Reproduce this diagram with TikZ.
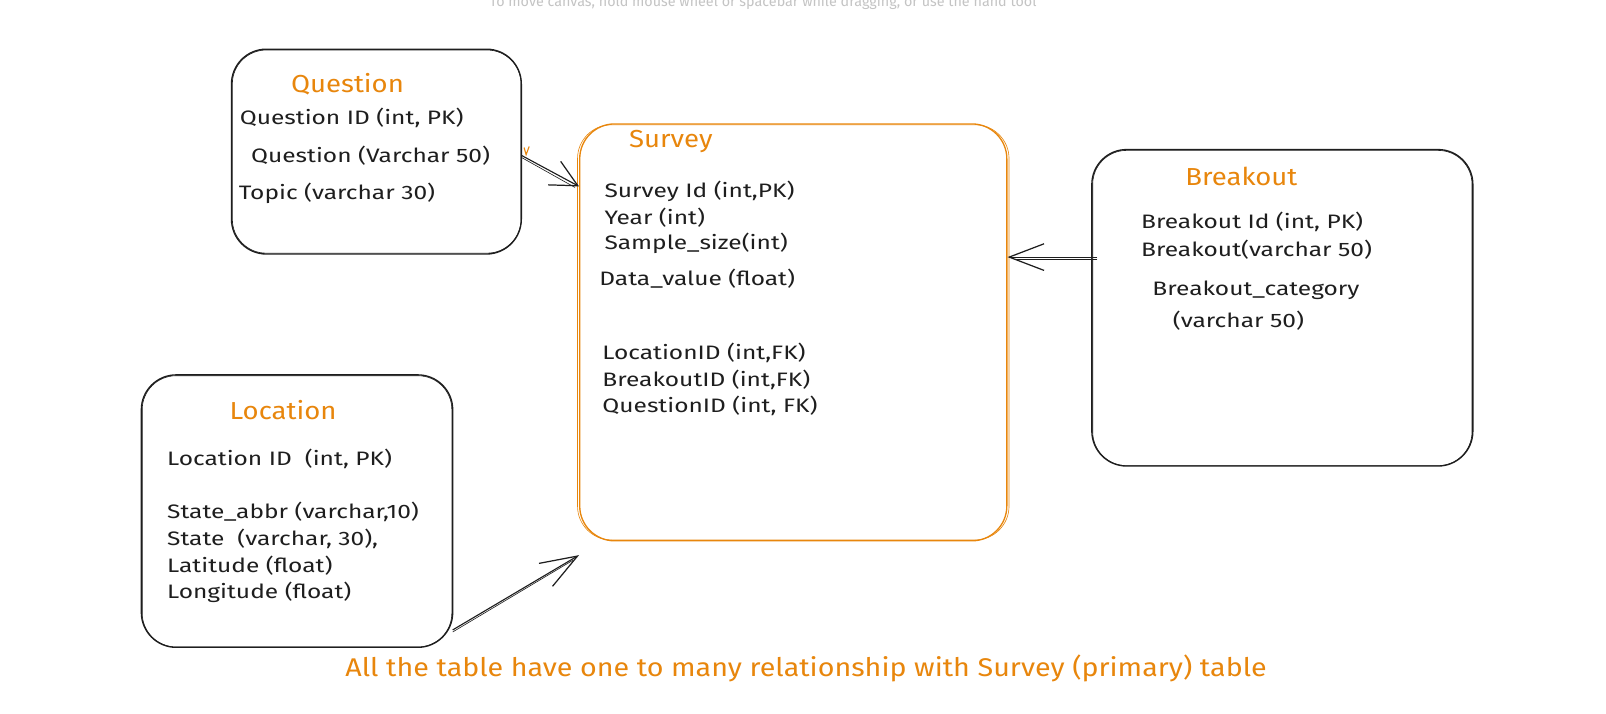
\documentclass[tikz,border=0pt]{standalone}
\usepackage{fontspec}
\setmainfont{Fira Sans}
\newfontfamily\rowfont{Fira Sans}[FakeStretch=1.26]
\newfontfamily\ttlfont{Fira Sans}[FakeStretch=1.12]
\usetikzlibrary{arrows.meta,calc}
\definecolor{orng}{HTML}{E8860C}
\definecolor{ink}{HTML}{1E1E1E}
\definecolor{hint}{HTML}{C4C4C4}
\begin{document}
\begin{tikzpicture}[x=1pt,y=-1pt,
  tbl/.style={draw=#1, line width=1.3pt, rounded corners=34pt, inner sep=0pt},
  tbl/.default=ink,
  row/.style={anchor=west, inner sep=0pt, text=ink, font=\rowfont\fontsize{19}{22}\selectfont},
  ttl/.style={anchor=west, inner sep=0pt, text=orng, font=\ttlfont\fontsize{24}{28}\selectfont},
  barb/.style={-{Straight Barb[length=#1, width=26pt, line width=1.2pt]}, draw=ink, line width=1.1pt},
  barb/.default=34pt,
  shadow/.style={draw=ink, line width=0.6pt}
]
\useasboundingbox (0,0) rectangle (1568,697);
\fill[white] (0,0) rectangle (1568,697);

% hint text at the top (clipped)
\node[anchor=base, inner sep=0pt, text=hint, font=\fontsize{14}{16}\selectfont] (hint) at (745,6)
  {To move canvas, hold mouse wheel or spacebar while dragging, or use the hand tool};

% tables
\node[tbl, minimum width=283pt, minimum height=200pt] (q) at (367.5,148) {};
\node[tbl=orng, minimum width=417pt, minimum height=407pt] (s) at (774.5,324.5) {};
\node[tbl, minimum width=372pt, minimum height=309pt] (b) at (1252,300.5) {};
\node[tbl, minimum width=304pt, minimum height=266pt] (l) at (290,499) {};

% sketchy second strokes
\draw[shadow, rounded corners=33pt] ($(q.south west)+(1.5,-1.5)$) rectangle ($(q.north east)+(-1,1.5)$);
\draw[draw=orng, line width=0.6pt, rounded corners=33pt] ($(s.south west)+(-1.5,-1.5)$) rectangle ($(s.north east)+(1.5,1.5)$);
\draw[shadow, rounded corners=33pt] ($(b.south west)+(1.5,-1)$) rectangle ($(b.north east)+(-1.5,1.5)$);
\draw[shadow, rounded corners=33pt] ($(l.south west)+(1.5,-1)$) rectangle ($(l.north east)+(-1.5,1.5)$);

% Question
\node[ttl] (qt) at (284,82) {Question};
\node[row] (q1) at (234,115) {Question ID (int, PK)};
\node[row] (q2) at (245,152) {Question (Varchar 50)};
\node[row] (q3) at (233,189) {Topic (varchar 30)};

% Survey
\node[ttl] (st) at (614,138) {Survey};
\node[row] (s1) at (590,187) {Survey Id (int,PK)};
\node[row] (s2) at (590,213) {Year (int)};
\node[row] (s3) at (590,238) {Sample\_size(int)};
\node[row] (s4) at (585,272) {Data\_value (float)};
\node[row] (s5) at (588,345) {LocationID (int,FK)};
\node[row] (s6) at (588,371) {BreakoutID (int,FK)};
\node[row] (s7) at (588,396) {QuestionID (int, FK)};

% Breakout
\node[ttl] (bt) at (1157,172) {Breakout};
\node[row] (b1) at (1114,217) {Breakout Id (int, PK)};
\node[row] (b2) at (1114,244) {Breakout(varchar 50)};
\node[row] (b3) at (1125,283) {Breakout\_category};
\node[row] (b4) at (1145,313) {(varchar 50)};

% Location
\node[ttl] (lt) at (224,400) {Location};
\node[row] (l1) at (163,448) {Location ID\ \ (int, PK)};
\node[row] (l2) at (163,500) {State\_abbr (varchar,10)};
\node[row] (l3) at (163,526) {State\ \ (varchar, 30),};
\node[row] (l4) at (163,552) {Latitude (float)};
\node[row] (l5) at (163,578) {Longitude (float)};

% footnote
\node[anchor=west, inner sep=0pt, text=orng, font=\ttlfont\fontsize{25}{30}\selectfont] (note) at (337,653)
  {All the table have one to many relationship with Survey (primary) table};

% connector end points on the borders
\coordinate (qout) at ($(q.east)+(0,4)$);
\coordinate (sinq) at (s.west |- 0,182);
\coordinate (bout) at ($(b.west)+(6,-49.5)$);
\coordinate (sinb) at (s.east |- 0,251);
\coordinate (lout) at (442,615);
\coordinate (sinl) at (s.west |- 0,542);

% connectors
\draw[barb=26pt] (qout) -- (sinq);
\draw[shadow] ($(qout)+(0,2)$) -- ($(sinq)+(-4,1)$);
\draw[barb] (bout) -- (sinb);
\draw[shadow] ($(bout)+(0,2)$) -- ($(sinb)+(8,2)$);
\draw[barb=36pt] (lout) -- (sinl);
\draw[shadow] ($(lout)+(0,2)$) -- ($(sinl)+(-6,5)$);

% small orange tick near the Question connector
\draw[orng, line width=1.1pt] ($(qout)+(2,-8)$) -- ($(qout)+(4,-1)$) -- ($(qout)+(7,-9)$);
\end{tikzpicture}
\end{document}
